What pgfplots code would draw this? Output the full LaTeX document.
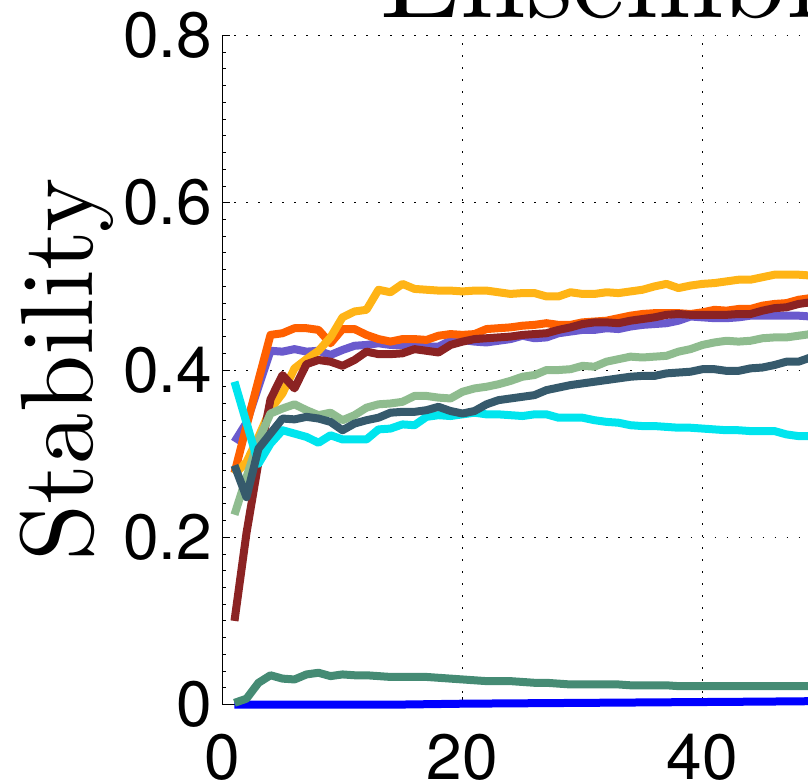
\documentclass[border=0pt]{standalone}
\usepackage{fontspec}
\usepackage{pgfplots}
\pgfplotsset{compat=1.18}
\newfontfamily\heros{TeX Gyre Heros}
\newfontfamily\cmten{lmroman10-regular.otf}
\definecolor{cY}{RGB}{255,180,22}
\definecolor{cO}{RGB}{255,96,0}
\definecolor{cP}{RGB}{106,90,205}
\definecolor{cD}{RGB}{139,35,35}
\definecolor{cG}{RGB}{143,188,143}
\definecolor{cS}{RGB}{54,90,108}
\definecolor{cC}{RGB}{0,229,238}
\definecolor{cA}{RGB}{69,139,116}
\definecolor{cB}{RGB}{0,0,255}
\begin{document}
\begin{tikzpicture}
\begin{axis}[
  scale only axis, width=146.4pt, height=167.25pt,
  xmin=0, xmax=48.8, ymin=0, ymax=0.8,
  axis x line*=bottom, axis y line*=left,
  xtick={0,20,40}, ytick={0,0.2,0.4,0.6,0.8},
  minor y tick num=9,
  tick align=inside,
  major tick length=2pt, minor tick length=1pt,
  grid=major,
  major grid style={black, line width=0.25pt, dash pattern=on 0.3pt off 2.7pt},
  axis line style={line width=0.25pt, black},
  tick style={black, line width=0.25pt},
  /pgf/number format/assume math mode=true,
  tick label style={font=\heros\fontsize{16}{16}\selectfont},
  yticklabel style={anchor=east, inner sep=0pt, xshift=-2.4pt},
  xticklabel style={anchor=north, inner sep=0pt, yshift=-7.3pt},
  clip=false,
  every axis plot/.append style={line width=2pt, line join=round, mark=none},
]
\addplot[cB] coordinates {(1,0) (5,0) (10,0) (15,0) (20,0.001) (25,0.0015) (30,0.002) (35,0.0025) (40,0.003) (45,0.0035) (49,0.004)};
\addplot[cA] coordinates {(1,0.002) (2,0.007) (3,0.026) (4,0.035) (5,0.031) (6,0.030) (7,0.036) (8,0.038) (9,0.034) (10,0.036) (11,0.035) (12,0.035) (13,0.034) (14,0.033) (15,0.033) (16,0.033) (17,0.033) (18,0.032) (19,0.031) (20,0.030) (21,0.029) (22,0.028) (23,0.028) (24,0.028) (25,0.027) (26,0.026) (27,0.026) (28,0.025) (29,0.024) (30,0.024) (31,0.024) (32,0.024) (33,0.024) (34,0.023) (35,0.023) (36,0.023) (37,0.023) (38,0.022) (39,0.022) (40,0.022) (41,0.022) (42,0.022) (43,0.022) (44,0.022) (45,0.022) (46,0.022) (47,0.022) (48,0.022) (49,0.022)};
\addplot[cP] coordinates {(1,0.314) (2,0.337) (3,0.380) (4,0.423) (5,0.422) (6,0.425) (7,0.422) (8,0.423) (9,0.418) (10,0.424) (11,0.429) (12,0.430) (13,0.432) (14,0.430) (15,0.430) (16,0.429) (17,0.428) (18,0.428) (19,0.435) (20,0.436) (21,0.434) (22,0.433) (23,0.435) (24,0.437) (25,0.441) (26,0.438) (27,0.439) (28,0.444) (29,0.446) (30,0.448) (31,0.448) (32,0.450) (33,0.449) (34,0.452) (35,0.454) (36,0.455) (37,0.456) (38,0.459) (39,0.464) (40,0.463) (41,0.462) (42,0.462) (43,0.463) (44,0.465) (45,0.465) (46,0.465) (47,0.465) (48,0.465) (49,0.464)};
\addplot[cO] coordinates {(1,0.277) (2,0.333) (3,0.388) (4,0.442) (5,0.444) (6,0.450) (7,0.450) (8,0.448) (9,0.432) (10,0.449) (11,0.449) (12,0.442) (13,0.437) (14,0.434) (15,0.437) (16,0.437) (17,0.436) (18,0.441) (19,0.443) (20,0.442) (21,0.443) (22,0.449) (23,0.450) (24,0.451) (25,0.453) (26,0.454) (27,0.456) (28,0.454) (29,0.454) (30,0.457) (31,0.458) (32,0.459) (33,0.462) (34,0.465) (35,0.467) (36,0.468) (37,0.468) (38,0.468) (39,0.467) (40,0.469) (41,0.472) (42,0.471) (43,0.473) (44,0.473) (45,0.477) (46,0.479) (47,0.480) (48,0.484) (49,0.486)};
\addplot[cY] coordinates {(1,0.275) (2,0.290) (3,0.320) (4,0.353) (5,0.372) (6,0.402) (7,0.413) (8,0.423) (9,0.439) (10,0.463) (11,0.470) (12,0.472) (13,0.496) (14,0.493) (15,0.503) (16,0.497) (17,0.496) (18,0.495) (19,0.495) (20,0.494) (21,0.495) (22,0.495) (23,0.493) (24,0.491) (25,0.492) (26,0.492) (27,0.488) (28,0.488) (29,0.493) (30,0.491) (31,0.491) (32,0.493) (33,0.492) (34,0.494) (35,0.496) (36,0.500) (37,0.503) (38,0.498) (39,0.501) (40,0.503) (41,0.504) (42,0.506) (43,0.508) (44,0.508) (45,0.511) (46,0.514) (47,0.514) (48,0.514) (49,0.513)};
\addplot[cD] coordinates {(1,0.100) (2,0.205) (3,0.290) (4,0.365) (5,0.394) (6,0.378) (7,0.407) (8,0.412) (9,0.410) (10,0.405) (11,0.412) (12,0.422) (13,0.419) (14,0.419) (15,0.420) (16,0.425) (17,0.423) (18,0.421) (19,0.430) (20,0.434) (21,0.437) (22,0.438) (23,0.439) (24,0.440) (25,0.442) (26,0.443) (27,0.444) (28,0.448) (29,0.451) (30,0.455) (31,0.457) (32,0.457) (33,0.456) (34,0.459) (35,0.461) (36,0.463) (37,0.466) (38,0.467) (39,0.466) (40,0.466) (41,0.466) (42,0.466) (43,0.467) (44,0.467) (45,0.471) (46,0.474) (47,0.475) (48,0.479) (49,0.481)};
\addplot[cG] coordinates {(1,0.227) (2,0.272) (3,0.316) (4,0.348) (5,0.354) (6,0.359) (7,0.352) (8,0.346) (9,0.349) (10,0.340) (11,0.346) (12,0.355) (13,0.359) (14,0.360) (15,0.362) (16,0.369) (17,0.369) (18,0.367) (19,0.366) (20,0.374) (21,0.378) (22,0.380) (23,0.383) (24,0.387) (25,0.392) (26,0.394) (27,0.400) (28,0.400) (29,0.401) (30,0.405) (31,0.404) (32,0.410) (33,0.413) (34,0.416) (35,0.415) (36,0.416) (37,0.417) (38,0.422) (39,0.425) (40,0.430) (41,0.433) (42,0.435) (43,0.434) (44,0.435) (45,0.438) (46,0.439) (47,0.439) (48,0.441) (49,0.443)};
\addplot[cC] coordinates {(1,0.386) (2,0.337) (3,0.288) (4,0.312) (5,0.328) (6,0.324) (7,0.320) (8,0.313) (9,0.322) (10,0.317) (11,0.317) (12,0.317) (13,0.329) (14,0.330) (15,0.335) (16,0.334) (17,0.344) (18,0.346) (19,0.345) (20,0.347) (21,0.349) (22,0.347) (23,0.347) (24,0.346) (25,0.345) (26,0.347) (27,0.347) (28,0.343) (29,0.343) (30,0.343) (31,0.340) (32,0.338) (33,0.337) (34,0.334) (35,0.333) (36,0.333) (37,0.332) (38,0.331) (39,0.331) (40,0.330) (41,0.329) (42,0.328) (43,0.328) (44,0.327) (45,0.327) (46,0.327) (47,0.323) (48,0.321) (49,0.321)};
\addplot[cS] coordinates {(1,0.286) (2,0.248) (3,0.306) (4,0.324) (5,0.342) (6,0.341) (7,0.344) (8,0.342) (9,0.338) (10,0.328) (11,0.336) (12,0.340) (13,0.343) (14,0.349) (15,0.350) (16,0.350) (17,0.352) (18,0.356) (19,0.351) (20,0.348) (21,0.351) (22,0.359) (23,0.364) (24,0.366) (25,0.368) (26,0.370) (27,0.376) (28,0.379) (29,0.382) (30,0.384) (31,0.386) (32,0.388) (33,0.390) (34,0.392) (35,0.393) (36,0.393) (37,0.396) (38,0.397) (39,0.398) (40,0.401) (41,0.401) (42,0.399) (43,0.399) (44,0.402) (45,0.403) (46,0.406) (47,0.410) (48,0.410) (49,0.415)};
\node[rotate=90, anchor=base, inner sep=0pt, font=\cmten\fontsize{25.7}{26}\selectfont] at (axis cs:-10.79,0.4) {Stability};
\node[anchor=base west, inner sep=0pt, font=\cmten\fontsize{29.5}{30}\selectfont] at (axis cs:13.1,0.821) {Ensemble Size};
\coordinate (bl) at (axis cs:-18.54,-0.0939);
\coordinate (tr) at (axis cs:48.79,0.8425);
\end{axis}
\pgfresetboundingbox
\useasboundingbox (bl) rectangle (tr);
\end{tikzpicture}
\end{document}
